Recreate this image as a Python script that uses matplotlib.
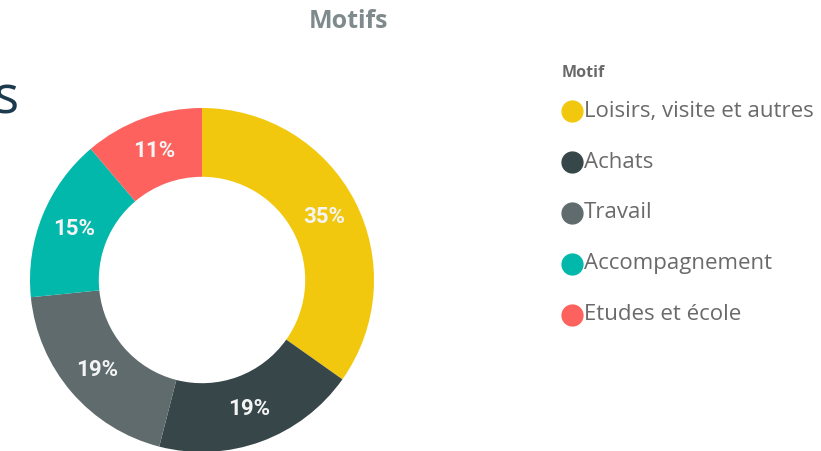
import matplotlib
matplotlib.use("Agg")
import matplotlib.pyplot as plt

# data
motifs = ["Loisirs, visite et autres", "Achats", "Travail", "Accompagnement", "Etudes et école"]
parts = [34.8, 19.2, 19.4, 15.4, 11.2]
colors = ["#F2C80F", "#374649", "#5F6B6D", "#01B8AA", "#FD625E"]

W, H = 821, 451
fig = plt.figure(figsize=(W / 100, H / 100), dpi=100)
fig.patch.set_facecolor("white")

# donut: centre ~ (202, 280) px, outer radius ~172 px
cx, cy, r = 202, 280, 172
ax = fig.add_axes([(cx - r) / W, 1 - (cy + r) / H, 2 * r / W, 2 * r / H])
wedges, texts, autotexts = ax.pie(
    parts, colors=colors, startangle=90, counterclock=False,
    wedgeprops=dict(width=0.4, edgecolor="none"),
    autopct=lambda p: "%d%%" % round(p), pctdistance=0.8,
    textprops=dict(color="#f4f4f4", fontsize=16, fontweight="bold", family="Roboto"))
ax.set_xlim(-1, 1)
ax.set_ylim(-1, 1)
ax.set_aspect("auto")
ax.axis("off")

fig.text(348 / W, 1 - 21 / H, "Motifs", ha="center", va="center",
         fontsize=18, fontweight="bold", color="#7f8a8d", family="Open Sans")
fig.text(-7 / W, 1 - 100 / H, "s", ha="left", va="center",
         fontsize=38, color="#1c3a4d", family="Open Sans")

# legend
lax = fig.add_axes([0, 0, 1, 1], facecolor="none")
lax.set_xlim(0, W)
lax.set_ylim(H, 0)
lax.axis("off")
lax.text(562, 73, "Motif", ha="left", va="center", fontsize=11.5,
         fontweight="bold", color="#6a6a6a", family="Open Sans")
for i, (m, c) in enumerate(zip(motifs, colors)):
    y = 111 + i * 51
    lax.plot([572], [y], marker="o", markersize=15, color=c, linestyle="none")
    lax.text(584, y, m, ha="left", va="center", fontsize=16,
             color="#6a6a6a", family="Open Sans")

fig.savefig("out.png", dpi=100)
